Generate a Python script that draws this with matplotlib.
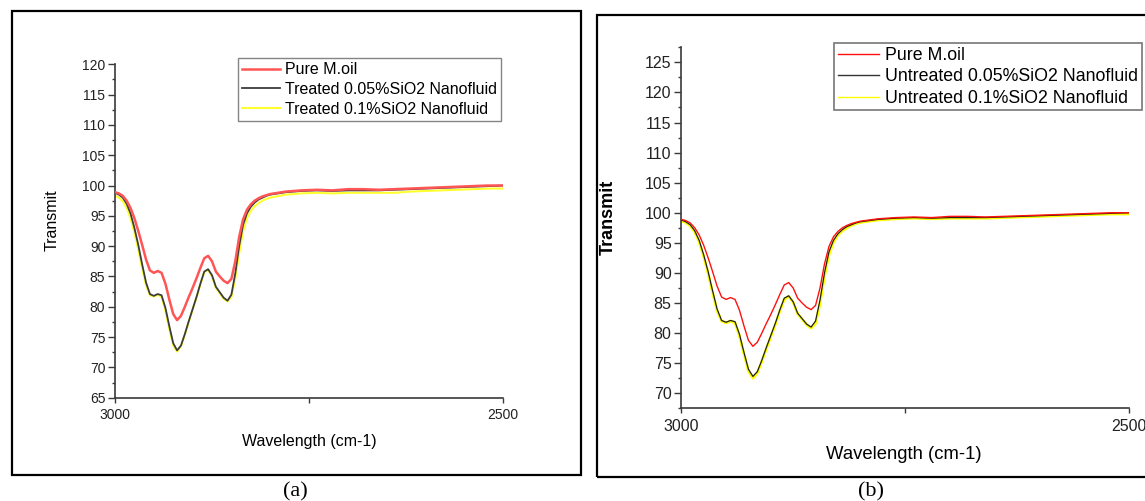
import numpy as np
import matplotlib
matplotlib.use("Agg")
import matplotlib.pyplot as plt
from matplotlib.patches import Rectangle

plt.rcParams["font.family"] = ["Liberation Sans", "DejaVu Sans"]

# wavenumber grid (cm-1), dense in the absorption band
wn = [3000, 2995, 2990, 2985, 2980, 2975, 2970, 2965, 2960, 2955,
      2950, 2945, 2940, 2935, 2930, 2925, 2920, 2915, 2910, 2905,
      2900, 2895, 2890, 2885, 2880, 2875, 2870, 2865, 2860, 2855,
      2850, 2845, 2840, 2835, 2830, 2825, 2820, 2815, 2810, 2805,
      2800, 2780, 2760, 2740, 2720, 2700, 2680, 2660, 2640, 2620,
      2600, 2580, 2560, 2540, 2520, 2500]

pure_oil = [98.9, 98.7, 98.3, 97.5, 96.3, 94.6, 92.5, 90.2, 87.8, 86.0,
            85.6, 85.9, 85.6, 83.8, 81.2, 78.8, 77.8, 78.5, 80.0, 81.6,
            83.1, 84.7, 86.4, 88.0, 88.4, 87.5, 85.8, 85.0, 84.3, 83.9,
            84.6, 87.5, 91.5, 94.4, 96.0, 96.9, 97.5, 97.9, 98.2, 98.4,
            98.6, 99.0, 99.2, 99.3, 99.2, 99.4, 99.4, 99.3, 99.4, 99.5,
            99.6, 99.7, 99.8, 99.9, 100.0, 100.0]

sio2_005 = [98.8, 98.5, 98.0, 97.0, 95.4, 93.0, 90.2, 87.0, 84.0, 82.1,
            81.8, 82.1, 81.9, 79.8, 76.8, 74.0, 72.8, 73.6, 75.5, 77.6,
            79.6, 81.6, 83.8, 85.8, 86.2, 85.2, 83.3, 82.4, 81.5, 81.0,
            82.0, 85.5, 90.0, 93.5, 95.4, 96.5, 97.2, 97.7, 98.0, 98.3,
            98.5, 98.9, 99.1, 99.2, 99.1, 99.2, 99.2, 99.2, 99.3, 99.4,
            99.5, 99.6, 99.7, 99.8, 99.9, 100.0]

sio2_01_treated = [98.3, 98.0, 97.4, 96.3, 94.6, 92.2, 89.4, 86.3, 83.5, 81.9,
                   81.7, 82.0, 81.6, 79.3, 76.3, 73.6, 72.6, 73.5, 75.4, 77.5,
                   79.5, 81.5, 83.7, 85.7, 86.1, 85.0, 83.1, 82.2, 81.3, 80.9,
                   81.6, 84.6, 88.8, 92.4, 94.6, 95.8, 96.6, 97.1, 97.5, 97.8,
                   98.0, 98.5, 98.7, 98.8, 98.7, 98.8, 98.8, 98.8, 98.8, 99.0,
                   99.1, 99.2, 99.3, 99.4, 99.5, 99.5]

sio2_01_untreated = [98.6, 98.4, 97.8, 96.8, 95.1, 92.7, 89.9, 86.7, 83.7, 82.0,
                     81.7, 82.0, 81.7, 79.5, 76.5, 73.7, 72.5, 73.4, 75.3, 77.4,
                     79.4, 81.4, 83.6, 85.6, 86.1, 85.1, 83.2, 82.3, 81.4, 80.8,
                     81.6, 84.9, 89.4, 93.0, 95.1, 96.3, 97.0, 97.5, 97.9, 98.2,
                     98.4, 98.8, 99.0, 99.1, 99.0, 99.1, 99.1, 99.1, 99.2, 99.3,
                     99.4, 99.5, 99.6, 99.7, 99.8, 99.8]

labels_a = ["Pure M.oil", "Treated 0.05%SiO2 Nanofluid", "Treated 0.1%SiO2 Nanofluid"]
labels_b = ["Pure M.oil", "Untreated 0.05%SiO2 Nanofluid", "Untreated 0.1%SiO2 Nanofluid"]

W, H = 1145, 501
fig = plt.figure(figsize=(W / 100, H / 100), dpi=100)


def px_axes(l, t, r, b):
    return [l / W, 1 - b / H, (r - l) / W, (b - t) / H]


def style_axes(ax, tick_fs, ylo, yhi, ymaj):
    ax.set_xticks([3000, 2500])
    ax.set_xticks([2750], minor=True)
    ax.set_yticks(np.arange(ymaj, yhi + 0.01, 5))
    ax.set_yticks(np.arange(ymaj - 2.5, yhi + 0.01, 5), minor=True)
    ax.set_xlim(3000, 2500)
    ax.set_ylim(ylo, yhi)
    for s in ["top", "right"]:
        ax.spines[s].set_visible(False)
    for s in ["left", "bottom"]:
        ax.spines[s].set_color("#3a3a3a")
        ax.spines[s].set_linewidth(1.2)
    ax.tick_params(axis="y", which="major", length=5, width=1, color="#3a3a3a",
                   labelsize=tick_fs, pad=2, labelcolor="#222222")
    ax.tick_params(axis="y", which="minor", length=2.5, width=1, color="#3a3a3a")
    ax.tick_params(axis="x", which="both", length=3.5, width=1, color="#3a3a3a",
                   labelsize=tick_fs, pad=4, labelcolor="#222222")


# ---- panel (a)
fig.add_artist(Rectangle((11.8 / W, 1 - 475 / H), (581 - 11.8) / W, (475 - 10.7) / H,
                         transform=fig.transFigure, fill=False, ec="black", lw=1.6))
ax1 = fig.add_axes(px_axes(115, 64.3, 503, 397.7))
style_axes(ax1, 10, 65, 120, 65)
ax1.plot(wn, sio2_01_treated, color="#ffff30", lw=1.5, zorder=2)
ax1.plot(wn, sio2_005, color="#3c3c3c", lw=1.3, zorder=3)
ax1.plot(wn, pure_oil, color="#ff5555", lw=1.8, zorder=4)
h = [plt.Line2D([], [], color=c, lw=lw) for c, lw in
     [("#ff5555", 1.8), ("#3c3c3c", 1.3), ("#ffff30", 1.5)]]
leg = ax1.legend(h, labels_a, loc="upper left", bbox_to_anchor=(238.3 / W, 1 - 58.3 / H),
                 bbox_transform=fig.transFigure, fontsize=11.5, frameon=True, fancybox=False,
                 borderaxespad=0, borderpad=0.25, labelspacing=0.3, handlelength=2.35,
                 handletextpad=0.3)
leg.get_frame().set_edgecolor("#666666")
leg.get_frame().set_linewidth(1.0)
ax1.set_ylabel("Transmit", fontsize=11.5)
ax1.yaxis.set_label_coords(-0.144, 0.533)
ax1.set_xlabel("Wavelength (cm-1)", fontsize=11.5)
ax1.xaxis.set_label_coords(0.5, -0.132)
ax1.xaxis.label.set_va("center")
fig.text(295 / W, 1 - 492 / H, "(a)", family="Liberation Serif", fontsize=16,
         ha="center", va="center")

# ---- panel (b)
fig.add_artist(Rectangle((597 / W, 1 - 477 / H), (1160 - 597) / W, (477 - 15) / H,
                         transform=fig.transFigure, fill=False, ec="black", lw=1.6))
ax2 = fig.add_axes(px_axes(681.3, 46.7, 1128.8, 408.3))
style_axes(ax2, 11.5, 67.5, 127.6, 70)
ax2.plot(wn, sio2_01_untreated, color="#ffff00", lw=2.0, zorder=2)
ax2.plot(wn, sio2_005, color="#1e1e1e", lw=0.9, zorder=3)
ax2.plot(wn, pure_oil, color="#ff1010", lw=1.0, zorder=4)
h = [plt.Line2D([], [], color=c, lw=1.0) for c in ["#ff1010", "#333333", "#ffff00"]]
leg = ax2.legend(h, labels_b, loc="upper left", bbox_to_anchor=(834.3 / W, 1 - 43.3 / H),
                 bbox_transform=fig.transFigure, fontsize=12.8, frameon=True, fancybox=False,
                 borderaxespad=0, borderpad=0.2, labelspacing=0.25, handlelength=2.3,
                 handletextpad=0.35)
leg.get_frame().set_edgecolor("#555555")
leg.get_frame().set_linewidth(1.2)
ax2.set_ylabel("Transmit", fontsize=13, fontweight="bold")
ax2.yaxis.set_label_coords(-0.145, 0.529)
ax2.set_xlabel("Wavelength (cm-1)", fontsize=13.3)
ax2.xaxis.set_label_coords(0.498, -0.129)
ax2.xaxis.label.set_va("center")
fig.text(871 / W, 1 - 492 / H, "(b)", family="Liberation Serif", fontsize=16,
         ha="center", va="center")

fig.savefig("out.png", dpi=100)
